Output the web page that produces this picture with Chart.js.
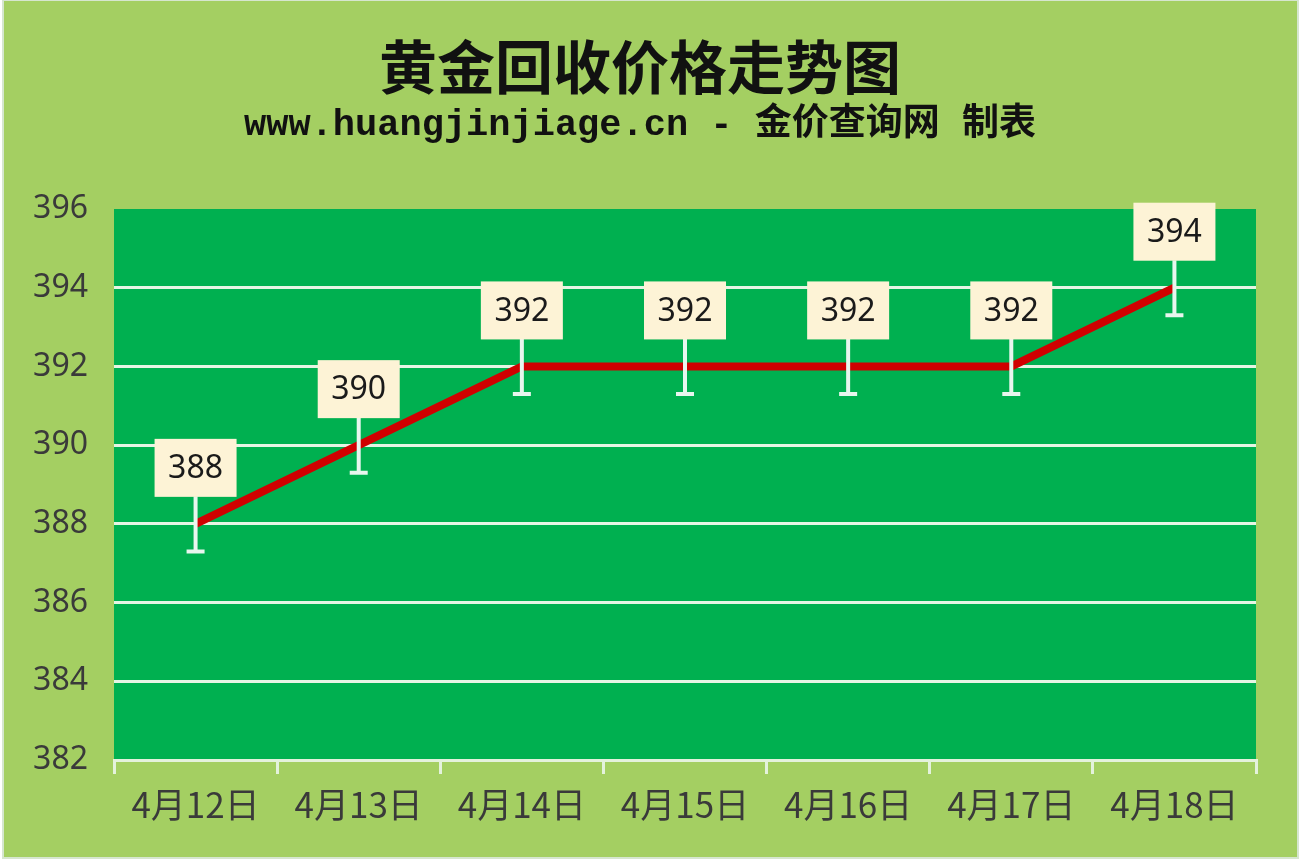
<!DOCTYPE html>
<html>
<head>
<meta charset="utf-8">
<script src="https://cdn.jsdelivr.net/npm/chart.js@4"></script>
<style>
  html, body { margin: 0; padding: 0; background: #ffffff; }
  #wrap { width: 1304px; height: 864px; }
</style>
</head>
<body>
<div id="wrap"><canvas id="lineChart" width="1304" height="864"></canvas></div>
<script>
var labels = ["4月12日", "4月13日", "4月14日", "4月15日", "4月16日", "4月17日", "4月18日"];
var prices = [388, 390, 392, 392, 392, 392, 394];
var errorBars = [0.7, 0.7, 0.7, 0.7, 0.7, 0.7, 0.7];

// page frame + green plot area
var backgroundPlugin = {
  id: 'frameBg',
  beforeDraw: function (chart) {
    var c = chart.ctx, a = chart.chartArea;
    c.save();
    c.fillStyle = '#ffffff';
    c.fillRect(0, 0, chart.width, chart.height);
    c.fillStyle = '#a4cf62';
    c.fillRect(3, 0, 1295, 858);
    c.strokeStyle = '#d6e6cf';
    c.lineWidth = 2;
    c.strokeRect(3, 0, 1295, 858);
    c.fillStyle = '#00b050';
    c.fillRect(a.left, a.top, a.right - a.left, a.bottom - a.top);
    c.restore();
  }
};

// white error bars and the cream value boxes
var labelPlugin = {
  id: 'valueBoxes',
  afterDatasetsDraw: function (chart) {
    var c = chart.ctx;
    var meta = chart.getDatasetMeta(0);
    var y = chart.scales.y;
    c.save();
    meta.data.forEach(function (pt, i) {
      var yTop = y.getPixelForValue(prices[i] + errorBars[i]);
      var yBot = y.getPixelForValue(prices[i] - errorBars[i]);
      c.strokeStyle = '#e8f6ee';
      c.lineWidth = 4;
      c.beginPath();
      c.moveTo(pt.x, yTop);
      c.lineTo(pt.x, yBot);
      c.moveTo(pt.x - 9, yBot);
      c.lineTo(pt.x + 9, yBot);
      c.stroke();
    });
    meta.data.forEach(function (pt, i) {
      var w = 82, h = 58;
      var bx = pt.x - w / 2, by = pt.y - 27 - h;
      c.fillStyle = '#fdf3d6';
      c.fillRect(bx, by, w, h);
      c.fillStyle = '#1a1a1a';
      c.font = '32px "Noto Sans", sans-serif';
      c.textAlign = 'center';
      c.textBaseline = 'middle';
      c.fillText(String(prices[i]), pt.x, by + h / 2 + 1);
    });
    c.restore();
  }
};

var ctx = document.getElementById('lineChart');
var lineChart = new Chart(ctx, {
  type: 'line',
  data: {
    labels: labels,
    datasets: [{
      data: prices,
      label: '黄金回收价格',
      borderColor: '#d00000',
      borderWidth: 8,
      pointRadius: 0,
      fill: false,
      tension: 0
    }]
  },
  options: {
    responsive: false,
    animation: false,
    layout: { padding: { left: 0, right: 24, top: 0, bottom: 0 } },
    plugins: {
      legend: { display: false },
      tooltip: { enabled: false },
      title: {
        display: true,
        text: '黄金回收价格走势图',
        color: '#111111',
        font: { family: '"Noto Sans CJK SC", sans-serif', size: 58, weight: 'bold' },
        padding: { top: 32, bottom: 0 }
      },
      subtitle: {
        display: true,
        text: 'www.huangjinjiage.cn - 金价查询网 制表',
        color: '#111111',
        font: { family: '"Liberation Mono", "Noto Sans CJK SC", monospace', size: 37, weight: 'bold' },
        padding: { top: 2, bottom: 61 }
      }
    },
    scales: {
      x: {
        offset: true,
        grid: {
          offset: true,
          drawOnChartArea: false,
          color: '#e4f2dc',
          lineWidth: 3,
          tickLength: 14
        },
        border: { display: true, color: '#e4f2dc', width: 3 },
        ticks: {
          color: '#3a3a3a',
          padding: 10,
          font: { family: '"Noto Sans CJK SC", sans-serif', size: 35 }
        },
        afterFit: function (s) { s.height = 104; }
      },
      y: {
        min: 382,
        max: 396,
        ticks: {
          stepSize: 2,
          color: '#3a3a3a',
          padding: 26,
          font: { family: '"Noto Sans", sans-serif', size: 32 }
        },
        grid: {
          drawTicks: false,
          lineWidth: 3,
          color: function (c) {
            var v = c.tick && c.tick.value;
            return (v === 382 || v === 396) ? 'rgba(0,0,0,0)' : '#e6f5e4';
          }
        },
        border: { display: false },
        afterFit: function (s) { s.width = 114; }
      },
      yRight: {
        position: 'right',
        display: true,
        min: 382,
        max: 396,
        ticks: { display: false },
        grid: { display: false },
        border: { display: false },
        afterFit: function (s) { s.width = 24; }
      }
    }
  },
  plugins: [backgroundPlugin, labelPlugin]
});
</script>
</body>
</html>
